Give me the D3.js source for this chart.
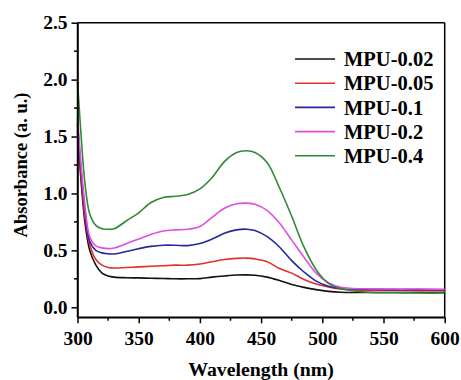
<!DOCTYPE html>
<html>
<head>
<meta charset="utf-8">
<script src="https://cdn.jsdelivr.net/npm/d3@7"></script>
<style>
  html, body { margin: 0; padding: 0; background: #fff; }
  svg { display: block; }
  text { font-family: "Liberation Serif", "Times New Roman", serif; font-weight: bold; fill: #000; }
</style>
</head>
<body>
<svg id="chart" width="461" height="380"></svg>
<script>
// ---- data ----
const wavelengths = [300, 303, 306, 310, 315, 320, 325, 330, 340, 350, 360, 370, 380, 390, 400, 410, 420, 430, 438, 445, 455, 465, 475, 485, 495, 505, 515, 525, 540, 560, 580, 600];
const seriesNames = ["MPU-0.02", "MPU-0.05", "MPU-0.1", "MPU-0.2", "MPU-0.4"];
const mpu002 = [1.55, 1.10, 0.75, 0.50, 0.37, 0.30, 0.275, 0.265, 0.26, 0.258, 0.255, 0.253, 0.25, 0.25, 0.252, 0.265, 0.275, 0.283, 0.285, 0.282, 0.265, 0.235, 0.20, 0.175, 0.155, 0.14, 0.132, 0.13, 0.13, 0.13, 0.13, 0.13];
const mpu005 = [1.60, 1.15, 0.80, 0.55, 0.42, 0.37, 0.35, 0.345, 0.35, 0.355, 0.36, 0.365, 0.37, 0.37, 0.38, 0.40, 0.42, 0.43, 0.432, 0.425, 0.40, 0.34, 0.30, 0.245, 0.205, 0.178, 0.16, 0.15, 0.148, 0.147, 0.146, 0.145];
const mpu01  = [1.62, 1.20, 0.87, 0.58, 0.50, 0.478, 0.47, 0.468, 0.49, 0.515, 0.535, 0.545, 0.545, 0.542, 0.56, 0.60, 0.65, 0.68, 0.686, 0.675, 0.62, 0.53, 0.41, 0.31, 0.23, 0.185, 0.165, 0.16, 0.157, 0.155, 0.155, 0.153];
const mpu02  = [1.67, 1.24, 0.90, 0.62, 0.54, 0.522, 0.515, 0.52, 0.56, 0.60, 0.64, 0.67, 0.68, 0.685, 0.71, 0.79, 0.87, 0.91, 0.915, 0.905, 0.85, 0.74, 0.59, 0.44, 0.30, 0.215, 0.175, 0.165, 0.162, 0.16, 0.16, 0.158];
const mpu04  = [1.98, 1.50, 1.10, 0.82, 0.72, 0.69, 0.685, 0.69, 0.76, 0.83, 0.92, 0.965, 0.975, 0.99, 1.04, 1.14, 1.28, 1.36, 1.375, 1.36, 1.27, 1.05, 0.80, 0.53, 0.33, 0.21, 0.165, 0.145, 0.13, 0.128, 0.125, 0.125];
const seriesColors = ["#111111", "#e0312f", "#27279c", "#e04ee0", "#2f8a35"];
const xTicks = [300, 350, 400, 450, 500, 550, 600];
const yTicks = [0.0, 0.5, 1.0, 1.5, 2.0, 2.5];
const xMinor = [325, 375, 425, 475, 525, 575];
const yMinor = [0.25, 0.75, 1.25, 1.75, 2.25];

const allSeries = [mpu002, mpu005, mpu01, mpu02, mpu04];

// ---- layout ----
const L = 77.5, R = 444.7, T = 22.7, B = 317.3;
const svg = d3.select("#chart");
const x = d3.scaleLinear().domain([300, 600]).range([L, R]);
const y = d3.scaleLinear().domain([-0.088, 2.5]).range([B, T]);
const FONT = '"Liberation Serif", "Times New Roman", serif';

// frame (top, right)
svg.append("line").attr("x1", L).attr("x2", R).attr("y1", T).attr("y2", T).attr("stroke", "#000").attr("stroke-width", 1.5);
svg.append("line").attr("x1", R).attr("x2", R).attr("y1", T).attr("y2", B).attr("stroke", "#000").attr("stroke-width", 1.5);

// curves
const line = d3.line()
  .x((d, i) => x(wavelengths[i]))
  .y(d => y(d))
  .curve(d3.curveCatmullRom.alpha(0.5));

allSeries.forEach((s, k) => {
  svg.append("path")
    .attr("d", line(s))
    .attr("fill", "none")
    .attr("stroke", seriesColors[k])
    .attr("stroke-width", 1.6);
});

// axes
const xAxis = svg.append("g").attr("transform", `translate(0,${B})`)
  .call(d3.axisBottom(x).tickValues(xTicks).tickFormat(d3.format("d")).tickSize(6).tickSizeOuter(0).tickPadding(8));
const yAxis = svg.append("g").attr("transform", `translate(${L},0)`)
  .call(d3.axisLeft(y).tickValues(yTicks).tickFormat(d3.format(".1f")).tickSize(6).tickSizeOuter(0).tickPadding(4));
[xAxis, yAxis].forEach(g => {
  g.select(".domain").attr("stroke", "#000").attr("stroke-width", 1.5);
  g.selectAll(".tick line").attr("stroke", "#000").attr("stroke-width", 1.5);
  g.selectAll(".tick text").style("font-size", "19.5px").style("font-family", FONT).style("font-weight", "bold").attr("fill", "#000");
});
// extend axis lines to the corner
svg.append("line").attr("x1", L).attr("x2", L).attr("y1", T).attr("y2", B).attr("stroke", "#000").attr("stroke-width", 1.5);
svg.append("line").attr("x1", L).attr("x2", R).attr("y1", B).attr("y2", B).attr("stroke", "#000").attr("stroke-width", 1.5);

// minor ticks
svg.append("g").selectAll("line").data(xMinor).join("line")
  .attr("x1", d => x(d)).attr("x2", d => x(d)).attr("y1", B).attr("y2", B + 3.5)
  .attr("stroke", "#000").attr("stroke-width", 1.5);
svg.append("g").selectAll("line").data(yMinor).join("line")
  .attr("x1", L - 3.5).attr("x2", L).attr("y1", d => y(d)).attr("y2", d => y(d))
  .attr("stroke", "#000").attr("stroke-width", 1.5);

// axis titles
svg.append("text").attr("x", (L + R) / 2).attr("y", 376).attr("text-anchor", "middle")
  .style("font-size", "19.8px").text("Wavelength (nm)");
svg.append("text").attr("transform", `translate(27,165) rotate(-90)`).attr("text-anchor", "middle")
  .style("font-size", "18.5px").text("Absorbance (a. u.)");

// legend
const lg = svg.append("g");
seriesNames.forEach((name, i) => {
  const cy = 59 + i * 24.2;
  lg.append("line").attr("x1", 295).attr("x2", 335).attr("y1", cy).attr("y2", cy)
    .attr("stroke", seriesColors[i]).attr("stroke-width", 1.6);
  lg.append("text").attr("x", 344).attr("y", cy).attr("dy", "0.35em")
    .style("font-size", "20.5px").text(name);
});
</script>
</body>
</html>
